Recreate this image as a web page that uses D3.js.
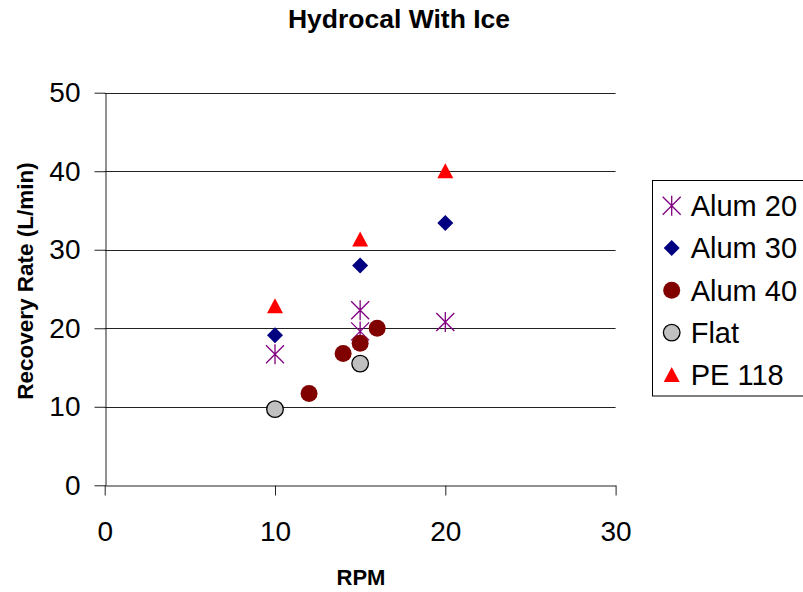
<!DOCTYPE html>
<html>
<head>
<meta charset="utf-8">
<script src="https://cdn.jsdelivr.net/npm/d3@7"></script>
<style>
  body { margin: 0; background: #fff; }
  svg { font-family: "Liberation Sans", Arial, sans-serif; }
</style>
</head>
<body>
<div id="chart"></div>
<script>
// data: [RPM, recovery rate]
var alum20 = [[10, 16.7], [15, 22.3], [15, 19.6], [20, 20.8]];
var alum30 = [[10, 19.1], [15, 28.0], [20, 33.4]];
var alum40 = [[12, 11.7], [14, 16.8], [15, 18.1], [16, 20.0]];
var flat = [[10, 9.7], [15, 15.5]];
var pe118 = [[10, 22.8], [15, 31.3], [20, 40.0]];

var seriesNames = ["Alum 20", "Alum 30", "Alum 40", "Flat", "PE 118"];
var xTicks = [0, 10, 20, 30];
var yTicks = [0, 10, 20, 30, 40, 50];

var width = 803, height = 592;

var svg = d3.select("#chart")
  .append("svg")
  .attr("width", width)
  .attr("height", height);

var x = d3.scaleLinear().domain([0, 30]).range([104.7, 615.6]);
var y = d3.scaleLinear().domain([0, 50]).range([485.3, 92.7]);

// marker shapes
var star = "M-9,-9L9,9M-9,9L9,-9M0,-10L0,10";
var diamond = "M0,-8L8,0L0,8L-8,0Z";
var triangle = "M0,-8L8,7L-8,7Z";

var series = [
  {name: seriesNames[0], values: alum20, path: star, fill: "none", stroke: "#800080", sw: 1.3},
  {name: seriesNames[1], values: alum30, path: diamond, fill: "#000080", stroke: "none", sw: 0},
  {name: seriesNames[2], values: alum40, circle: 8.5, fill: "#800000", stroke: "none", sw: 0},
  {name: seriesNames[3], values: flat, circle: 8.3, fill: "#c0c0c0", stroke: "#000", sw: 1.3},
  {name: seriesNames[4], values: pe118, path: triangle, fill: "#ff0000", stroke: "none", sw: 0}
];

// gridlines
svg.append("g")
  .selectAll("line")
  .data(yTicks.filter(function(d) { return d > 0; }))
  .enter()
  .append("line")
    .attr("x1", x(0))
    .attr("x2", x(30))
    .attr("y1", function(d) { return Math.round(y(d)) + 0.5; })
    .attr("y2", function(d) { return Math.round(y(d)) + 0.5; })
    .attr("stroke", "#222")
    .attr("stroke-width", 1);

// axes
var xAxis = svg.append("g")
  .attr("transform", "translate(0," + (Math.round(y(0)) + 0.5) + ")")
  .call(d3.axisBottom(x).tickValues(xTicks).tickSize(10).tickPadding(26).tickSizeOuter(0));
var yAxis = svg.append("g")
  .attr("transform", "translate(" + (Math.round(x(0)) + 0.5) + ",0)")
  .call(d3.axisLeft(y).tickValues(yTicks).tickSize(11).tickPadding(14).tickSizeOuter(0));

[xAxis, yAxis].forEach(function(a) {
  a.selectAll("path, line").attr("stroke", "#222");
  a.selectAll("text")
    .attr("fill", "#000")
    .style("font-size", "28px")
    .style("font-family", "'Liberation Sans', Arial, sans-serif");
});

// points
series.forEach(function(s) {
  var g = svg.append("g");
  var pts = g.selectAll("mark")
    .data(s.values)
    .enter();
  if (s.circle) {
    pts.append("circle")
      .attr("cx", function(d) { return x(d[0]); })
      .attr("cy", function(d) { return y(d[1]); })
      .attr("r", s.circle)
      .attr("fill", s.fill)
      .attr("stroke", s.stroke)
      .attr("stroke-width", s.sw);
  } else {
    pts.append("path")
      .attr("d", s.path)
      .attr("transform", function(d) { return "translate(" + x(d[0]) + "," + y(d[1]) + ")"; })
      .attr("fill", s.fill)
      .attr("stroke", s.stroke)
      .attr("stroke-width", s.sw);
  }
});

// title and axis labels
svg.append("text")
  .attr("x", 399)
  .attr("y", 28)
  .attr("text-anchor", "middle")
  .style("font-size", "26.5px")
  .style("font-weight", "bold")
  .text("Hydrocal With Ice");

svg.append("text")
  .attr("x", 361)
  .attr("y", 585)
  .attr("text-anchor", "middle")
  .style("font-size", "22px")
  .style("font-weight", "bold")
  .text("RPM");

svg.append("text")
  .attr("transform", "translate(33,281) rotate(-90)")
  .attr("text-anchor", "middle")
  .style("font-size", "22.5px")
  .style("font-weight", "bold")
  .text("Recovery Rate (L/min)");

// legend
var legend = svg.append("g");
legend.append("rect")
  .attr("x", 652.5)
  .attr("y", 180.5)
  .attr("width", 170)
  .attr("height", 215.5)
  .attr("fill", "#fff")
  .attr("stroke", "#000");

var rows = legend.selectAll("row")
  .data(series)
  .enter()
  .append("g")
    .attr("transform", function(d, i) { return "translate(671.7," + (205.7 + i * 42.3) + ")"; });

rows.each(function(s) {
  var r = d3.select(this);
  if (s.circle) {
    r.append("circle")
      .attr("r", s.circle)
      .attr("fill", s.fill)
      .attr("stroke", s.stroke)
      .attr("stroke-width", s.sw);
  } else {
    r.append("path")
      .attr("d", s.path)
      .attr("fill", s.fill)
      .attr("stroke", s.stroke)
      .attr("stroke-width", s.sw);
  }
});

rows.append("text")
  .attr("x", 19)
  .attr("dy", "0.36em")
  .style("font-size", "29px")
  .text(function(d) { return d.name; });
</script>
</body>
</html>
